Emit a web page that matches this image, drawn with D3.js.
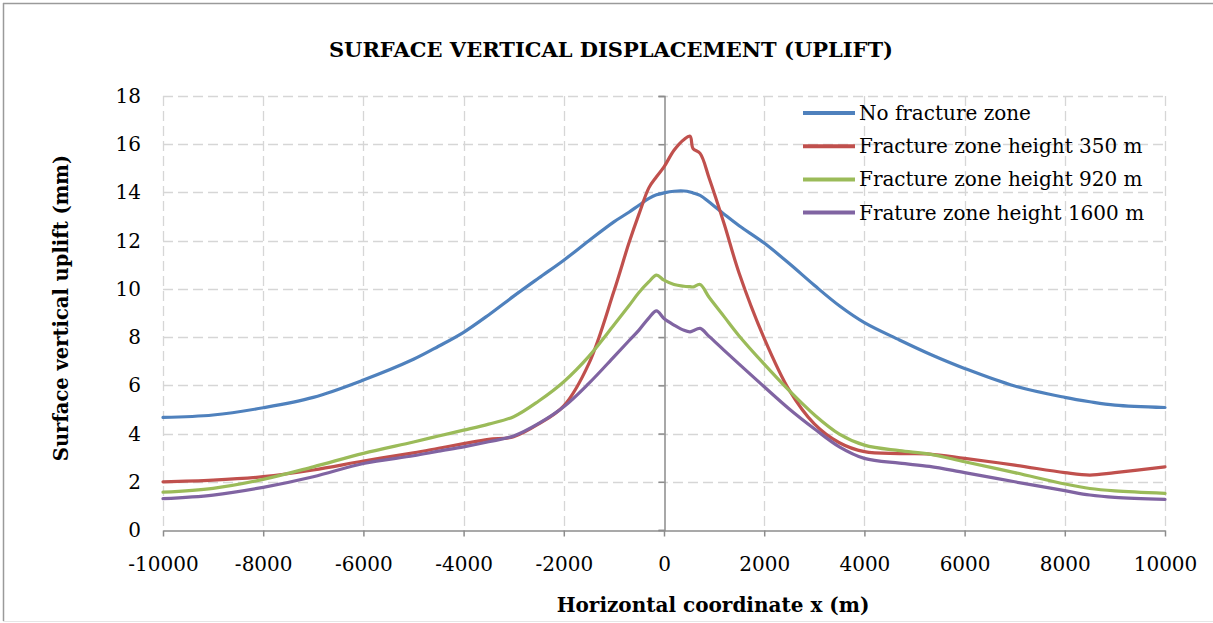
<!DOCTYPE html>
<html>
<head>
<meta charset="utf-8">
<script src="https://cdn.jsdelivr.net/npm/d3@7"></script>
<style>
  html, body { margin: 0; padding: 0; background: #fff; }
  svg { display: block; }
</style>
</head>
<body>
<svg id="chart" width="1213" height="623"></svg>
<script>
// Horizontal positions (m) at which uplift was sampled
const xCoords = [-10000, -9000, -8000, -7000, -6000, -5000, -4500, -4000, -3500, -3000, -2500,
  -2000, -1500, -1000, -700, -500, -300, -150, 0, 200, 400, 520, 580, 720, 900, 1200,
  1500, 2000, 2500, 3000, 3500, 4000, 4700, 5300, 6000, 7000, 8000, 8500, 9000, 10000];

// Surface vertical uplift (mm) for each model
const noFracture = [4.67, 4.77, 5.07, 5.50, 6.22, 7.08, 7.62, 8.20, 8.92, 9.70, 10.45,
  11.19, 12.00, 12.78, 13.18, 13.47, 13.75, 13.90, 13.98, 14.05, 14.06, 14.02, 13.98, 13.88, 13.60, 13.10,
  12.62, 11.90, 11.05, 10.15, 9.30, 8.60, 7.88, 7.30, 6.70, 5.97, 5.50, 5.32, 5.18, 5.08];
const fz350 = [2.00, 2.07, 2.21, 2.49, 2.86, 3.20, 3.39, 3.58, 3.76, 3.87, 4.40,
  5.15, 6.90, 9.90, 11.90, 13.10, 14.20, 14.65, 15.06, 15.75, 16.20, 16.33, 15.82, 15.62, 14.60, 12.70,
  10.65, 7.95, 5.80, 4.40, 3.62, 3.25, 3.17, 3.15, 2.97, 2.69, 2.38, 2.28, 2.38, 2.62];
const fz920 = [1.57, 1.73, 2.10, 2.62, 3.18, 3.65, 3.90, 4.14, 4.39, 4.70, 5.35,
  6.15, 7.20, 8.50, 9.30, 9.85, 10.30, 10.57, 10.36, 10.18, 10.11, 10.09, 10.08, 10.18, 9.65, 8.85,
  8.05, 6.88, 5.78, 4.78, 3.98, 3.52, 3.29, 3.15, 2.83, 2.38, 1.91, 1.72, 1.62, 1.52];
const fz1600 = [1.30, 1.45, 1.77, 2.21, 2.76, 3.08, 3.27, 3.45, 3.66, 3.90, 4.42,
  5.11, 6.08, 7.18, 7.85, 8.29, 8.80, 9.09, 8.77, 8.50, 8.28, 8.22, 8.26, 8.36, 8.03, 7.45,
  6.88, 5.94, 5.02, 4.20, 3.45, 2.97, 2.77, 2.64, 2.38, 2.00, 1.63, 1.45, 1.35, 1.27];

const seriesNames = ["No fracture zone", "Fracture zone height 350 m",
  "Fracture zone height 920 m", "Frature zone height 1600 m"];
const seriesValues = [noFracture, fz350, fz920, fz1600];
const seriesColors = ["#4F81BD", "#C0504D", "#9BBB59", "#8064A2"];

const xTicks = d3.range(-10000, 10001, 2000);
const yTicks = d3.range(0, 19, 2);

const svg = d3.select("#chart");
const W = 1213, H = 623;
const plot = { left: 163, right: 1165, top: 96, bottom: 530 };
const FONT = "'DejaVu Serif', 'Liberation Serif', serif";

// outer frame
svg.append("line").attr("x1", 3.5).attr("x2", 3.5).attr("y1", 3).attr("y2", 621)
  .attr("stroke", "#9a9a9a").attr("stroke-width", 1.5);
svg.append("line").attr("x1", 3).attr("x2", W).attr("y1", 3.5).attr("y2", 3.5)
  .attr("stroke", "#9a9a9a").attr("stroke-width", 1.5);
svg.append("line").attr("x1", 3).attr("x2", W).attr("y1", 621.5).attr("y2", 621.5)
  .attr("stroke", "#e6e6e6").attr("stroke-width", 1);

const x = d3.scaleLinear().domain([-10000, 10000]).range([plot.left, plot.right]);
const y = d3.scaleLinear().domain([0, 18]).range([plot.bottom, plot.top]);

// dashed gridlines
const grid = svg.append("g").attr("stroke", "#d6d6d6").attr("stroke-width", 1.3)
  .attr("stroke-dasharray", "10,5").attr("fill", "none");
yTicks.filter(d => d > 0).forEach(d => {
  grid.append("line").attr("x1", plot.left).attr("x2", plot.right)
    .attr("y1", Math.round(y(d)) + 0.5).attr("y2", Math.round(y(d)) + 0.5);
});
xTicks.filter(d => d !== 0).forEach(d => {
  grid.append("line").attr("x1", Math.round(x(d)) + 0.5).attr("x2", Math.round(x(d)) + 0.5)
    .attr("y1", plot.top).attr("y2", plot.bottom);
});

// vertical axis drawn at x = 0
const yAxis = d3.axisLeft(y).tickValues(yTicks).tickSize(6).tickFormat("");
const yAxisG = svg.append("g").attr("transform", `translate(${Math.round(x(0)) + 0.5},0)`).call(yAxis);
yAxisG.selectAll("path, line").attr("stroke", "#8c8c8c").attr("stroke-width", 1.5);

// y tick labels along the left edge
svg.append("g").selectAll("text").data(yTicks).join("text")
  .attr("x", 141).attr("y", d => y(d) + 7)
  .attr("text-anchor", "end").attr("font-family", FONT).attr("font-size", 20)
  .attr("fill", "#000").text(d => d);

// horizontal axis
const xAxis = d3.axisBottom(x).tickValues(xTicks).tickSize(6).tickSizeOuter(0).tickFormat(d => d);
const xAxisG = svg.append("g").attr("transform", `translate(0,${plot.bottom + 0.5})`).call(xAxis);
xAxisG.selectAll("path, line").attr("stroke", "#8c8c8c").attr("stroke-width", 1.5);
xAxisG.selectAll("text").attr("font-family", FONT).attr("font-size", 20)
  .attr("fill", "#000").attr("dy", 0).attr("y", 40);

// series lines
const line = d3.line().x(d => x(d[0])).y(d => y(d[1])).curve(d3.curveCatmullRom.alpha(0.5));
seriesValues.forEach((vals, i) => {
  svg.append("path").datum(xCoords.map((xc, j) => [xc, vals[j]]))
    .attr("d", line).attr("fill", "none").attr("stroke", seriesColors[i])
    .attr("stroke-width", 3.2).attr("stroke-linejoin", "round").attr("stroke-linecap", "round");
});

// legend
const legend = svg.append("g");
seriesNames.forEach((name, i) => {
  const ly = 113 + i * 33.2;
  legend.append("line").attr("x1", 803).attr("x2", 855).attr("y1", ly).attr("y2", ly)
    .attr("stroke", seriesColors[i]).attr("stroke-width", 4);
  legend.append("text").attr("x", 859).attr("y", ly + 7).attr("font-family", FONT)
    .attr("font-size", 20).attr("fill", "#000").text(name);
});

// titles
svg.append("text").attr("x", 611).attr("y", 57).attr("text-anchor", "middle")
  .attr("font-family", FONT).attr("font-weight", "bold").attr("font-size", 21)
  .attr("fill", "#000").text("SURFACE VERTICAL DISPLACEMENT (UPLIFT)");
svg.append("text").attr("x", 713).attr("y", 612).attr("text-anchor", "middle")
  .attr("font-family", FONT).attr("font-weight", "bold").attr("font-size", 20)
  .attr("fill", "#000").text("Horizontal coordinate x (m)");
svg.append("text").attr("transform", "translate(68,308) rotate(-90)").attr("text-anchor", "middle")
  .attr("font-family", FONT).attr("font-weight", "bold").attr("font-size", 19.5)
  .attr("fill", "#000").text("Surface vertical uplift (mm)");
</script>
</body>
</html>
